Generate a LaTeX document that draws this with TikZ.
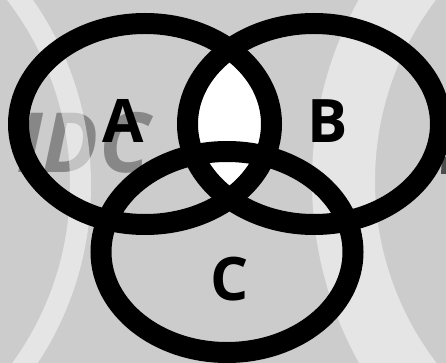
\documentclass[tikz,border=0pt]{standalone}
\usepackage{fontspec}
\setmainfont{Open Sans}
\newfontfamily\labelfont{Open Sans}[UprightFont=* Bold]
\newfontfamily\wmfont{Open Sans}[UprightFont=* Bold Italic]
\definecolor{bggray}{HTML}{CCCCCC}
\definecolor{wmgray}{HTML}{878787}
\tikzset{
  ring/.style={draw=black, line width=21pt},
  band/.style={fill=white, fill opacity=0.5},
  setlabel/.style={anchor=base, inner sep=0pt, font=\labelfont\fontsize{60}{60}\selectfont},
}
\begin{document}
\begin{tikzpicture}[x=1pt,y=-1pt]
\useasboundingbox (0,0) rectangle (446,363);
\begin{scope}
\clip (0,0) rectangle (446,363);
% background
\fill[bggray] (0,0) rectangle (446,363);
% watermark text
\node[anchor=base east, inner sep=0pt, text=wmgray, font=\wmfont\fontsize{83}{83}\selectfont] (wm) at (150,172) {IDC};
\fill[gray!60!black] (442,157) -- (446,157) -- (446,174) -- (441,174) -- cycle;
% light bands
\draw[white, draw opacity=0.5, line width=21pt] (-233,185) circle (313.5pt);
\fill[band, even odd rule] (687,181) circle (375pt) (675,181) circle (300pt);
% lens A and B
\begin{scope}
\clip (145,124) ellipse [x radius=126.5pt, y radius=100.5pt];
\fill[white] (314,124) ellipse [x radius=126.5pt, y radius=100.5pt];
\end{scope}
% rings
\draw[ring] (145,124) ellipse [x radius=126.5pt, y radius=100.5pt];
\draw[ring] (314,124) ellipse [x radius=126.5pt, y radius=100.5pt];
\draw[ring] (227,252) ellipse [x radius=126pt, y radius=100.5pt];
\end{scope}
% labels
\node[setlabel] (la) at (123,143) {A};
\node[setlabel] (lb) at (328,143) {B};
\node[setlabel] (lc) at (230,300) {C};
\end{tikzpicture}
\end{document}
